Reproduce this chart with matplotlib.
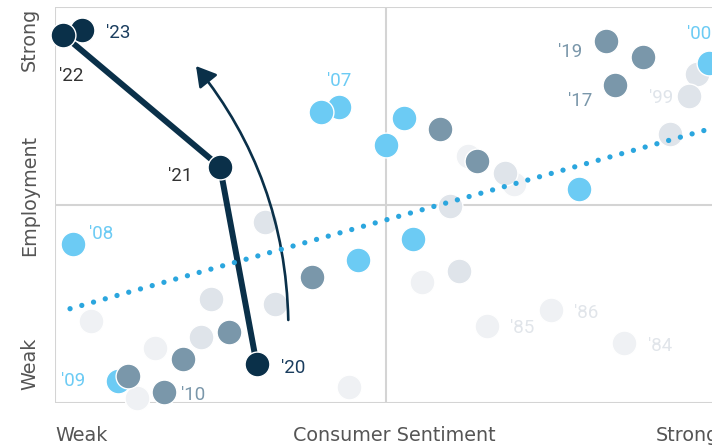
import matplotlib
matplotlib.use("Agg")
import matplotlib.pyplot as plt
from matplotlib.patches import FancyArrowPatch

# ---------------- data (0-100 scale: weak -> strong) ----------------
years_1980s = [1980, 1981, 1982, 1983, 1984, 1985, 1986, 1987, 1988, 1989]
sent_1980s = [5.44, 12.43, 15.15, 44.37, 86.00, 65.21, 74.92, 55.48, 62.34, 69.38]
empl_1980s = [20.81, 1.19, 13.91, 4.12, 15.25, 19.39, 23.59, 30.47, 62.53, 55.45]

years_1990s = [1990, 1991, 1992, 1993, 1994, 1995, 1996, 1997, 1998, 1999]
sent_1990s = [33.19, 22.05, 23.52, 31.77, 61.03, 59.67, 67.98, 92.95, 96.93, 95.77]
empl_1990s = [24.96, 16.61, 26.30, 45.77, 33.30, 49.89, 58.28, 68.02, 83.19, 77.70]

years_2000s = [2000, 2001, 2002, 2003, 2004, 2005, 2006, 2007, 2008, 2009]
sent_2000s = [98.79, 79.11, 54.05, 45.77, 49.95, 52.67, 42.90, 40.18, 2.67, 9.56]
empl_2000s = [86.09, 54.19, 41.59, 36.08, 65.16, 72.14, 74.84, 73.58, 40.20, 5.56]

years_2010s = [2010, 2011, 2012, 2013, 2014, 2015, 2016, 2017, 2018, 2019]
sent_2010s = [16.51, 10.98, 19.29, 26.28, 38.82, 63.79, 58.20, 84.64, 88.82, 83.28]
empl_2010s = [2.71, 6.90, 11.05, 18.03, 31.93, 61.11, 69.36, 80.48, 87.41, 91.53]

years_2020s = [2020, 2021, 2022, 2023]
sent_2020s = [30.47, 24.92, 1.25, 4.03]
empl_2020s = [9.79, 59.75, 93.05, 94.31]

labeled_years = [1984, 1985, 1986, 1999, 2000, 2007, 2008, 2009, 2010,
                 2017, 2019, 2020, 2021, 2022, 2023]

trend_x = [2.27, 100.0]
trend_y = [23.84, 69.82]

arrow_start = (35.24, 20.99)
arrow_end = (21.30, 85.20)

x_axis_labels = ["Weak", "Consumer Sentiment", "Strong"]
y_axis_labels = ["Weak", "Employment", "Strong"]

# ---------------- styles ----------------
W, H = 712, 447
C80, C90, C00, C10, C20 = "#eff1f4", "#dfe4ea", "#6ccbf4", "#7a97aa", "#0a3049"
label_colors = {1980: "#e1e5ea", 1990: "#dfe4ea", 2000: "#6ccbf4", 2010: "#7a97aa"}
GRID = "#d4d4d4"

# label offsets in pixels: (dx, dy_down of text centre, ha, colour)
label_style = {
    1984: (24.0, 2.0, "left", None),
    1985: (23.3, 0.4, "left", None),
    1986: (23.3, 1.3, "left", None),
    1999: (-15.7, 0.3, "right", None),
    2000: (-22.3, -30.2, "left", None),
    2007: (5.7, -32.7, "left", None),
    2008: (16.3, -11.3, "left", None),
    2009: (-33.3, -1.7, "right", None),
    2010: (16.4, 1.0, "left", None),
    2017: (-23.3, 14.3, "right", None),
    2019: (-23.6, 9.0, "right", None),
    2020: (24.3, 1.7, "left", "#1a3d5e"),
    2021: (-27.7, 7.3, "right", "#333333"),
    2022: (-4.0, 39.0, "left", "#333333"),
    2023: (24.3, 1.7, "left", "#1a3d5e"),
}

fig = plt.figure(figsize=(W / 100, H / 100), dpi=100)
fig.patch.set_facecolor("white")
ax_l, ax_r, ax_t, ax_b = 55, 717, 7.5, 403
ax = fig.add_axes([ax_l / W, 1 - ax_b / H, (ax_r - ax_l) / W, (ax_b - ax_t) / H])
ax.set_xlim(0, 100)
ax.set_ylim(0, 100)
ax.set_axis_off()

# frame / grid
for v in (0, 50):
    ax.axvline(v, color=GRID, lw=1.5, zorder=1)
for v in (0, 50, 100):
    ax.axhline(v, color=GRID, lw=1.5, zorder=1)

S = 320
EDGE = 1.0
groups = [
    (years_1980s, sent_1980s, empl_1980s, C80),
    (years_1990s, sent_1990s, empl_1990s, C90),
    (years_2000s, sent_2000s, empl_2000s, C00),
    (years_2010s, sent_2010s, empl_2010s, C10),
]
z = 3.0
for yrs, xs, ys, col in groups:
    for xv, yv in zip(xs, ys):
        ax.scatter([xv], [yv], s=S, color=col, edgecolors="white",
                   linewidths=EDGE, zorder=z, clip_on=False)
        z += 0.001

# navy path 2020 -> 2022
ax.plot(sent_2020s[:3], empl_2020s[:3], color=C20, lw=4.3, zorder=4.5,
        solid_capstyle="butt", solid_joinstyle="miter")
for xv, yv in list(zip(sent_2020s, empl_2020s))[::-1]:
    ax.scatter([xv], [yv], s=S, color=C20, edgecolors="white",
               linewidths=EDGE, zorder=z + 2, clip_on=False)
    z += 0.001

# curved arrow
arr = FancyArrowPatch(arrow_start, arrow_end, connectionstyle="arc3,rad=0.17",
                      arrowstyle="-|>,head_length=0.6,head_width=0.35",
                      mutation_scale=20, color=C20, lw=1.9, zorder=4.6,
                      shrinkA=0, shrinkB=0)
ax.add_patch(arr)

# trend (dotted)
ax.plot(trend_x, trend_y, color="#2ba6de", lw=3.8,
        linestyle=(0, (0.01, 2.3)), dash_capstyle="round", zorder=6,
        clip_on=False)

# year labels
all_pts = {}
for yrs, xs, ys in [(years_1980s, sent_1980s, empl_1980s),
                    (years_1990s, sent_1990s, empl_1990s),
                    (years_2000s, sent_2000s, empl_2000s),
                    (years_2010s, sent_2010s, empl_2010s),
                    (years_2020s, sent_2020s, empl_2020s)]:
    for yr, xv, yv in zip(yrs, xs, ys):
        all_pts[yr] = (xv, yv)

PX = 0.72
for yr in labeled_years:
    xv, yv = all_pts[yr]
    dx, dy, ha, col = label_style[yr]
    if col is None:
        col = label_colors[(yr // 10) * 10]
    ax.annotate("'" + str(yr)[-2:], xy=(xv, yv),
                xytext=(dx * PX, -(dy + 6.7) * PX), textcoords="offset points",
                ha=ha, va="baseline", fontsize=13.5, family=["Roboto", "DejaVu Sans"],
                color=col, zorder=8, annotation_clip=False)

# axis labels
AX_FONT = dict(fontsize=13.8, color="#555555", family=["DejaVu Sans"])
fig.text(55 / W, 1 - 441 / H, x_axis_labels[0], ha="left", va="baseline", **AX_FONT)
fig.text(394 / W, 1 - 441 / H, x_axis_labels[1], ha="center", va="baseline", **AX_FONT)
fig.text(656 / W, 1 - 441 / H, x_axis_labels[2], ha="left", va="baseline", **AX_FONT)

for txt, ypx, ha in [(y_axis_labels[0], 390, "left"),
                     (y_axis_labels[1], 195, "center"),
                     (y_axis_labels[2], 8, "right")]:
    fig.text(35 / W, 1 - ypx / H, txt, rotation=90, rotation_mode="anchor",
             ha=ha, va="baseline", **AX_FONT)

fig.savefig("out.png", dpi=100, facecolor="white")
